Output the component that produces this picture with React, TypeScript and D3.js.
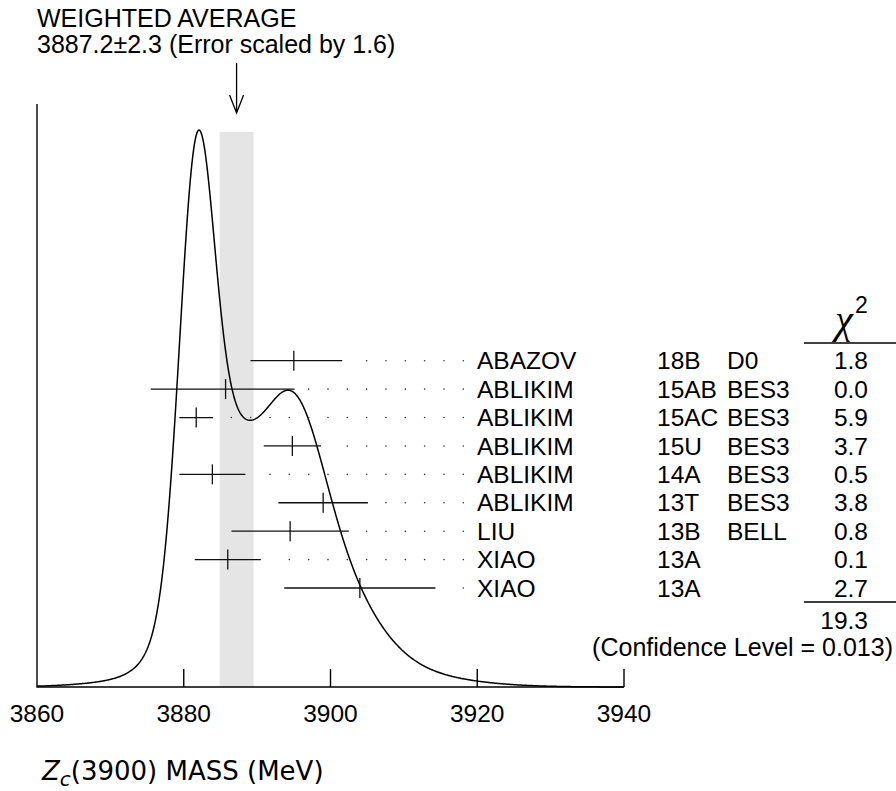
import { useEffect, useRef } from "react";
import * as d3 from "d3";

// measurements (MeV), errors combined in quadrature
const authors = ["ABAZOV", "ABLIKIM", "ABLIKIM", "ABLIKIM", "ABLIKIM", "ABLIKIM", "LIU", "XIAO", "XIAO"];
const refs = ["18B", "15AB", "15AC", "15U", "14A", "13T", "13B", "13A", "13A"];
const experiments = ["D0", "BES3", "BES3", "BES3", "BES3", "BES3", "BELL", "", ""];
const masses = [3895.0, 3885.7, 3881.7, 3894.8, 3883.9, 3899.0, 3894.5, 3886.0, 3904.0];
const errLo = [5.9, 10.2, 2.3, 3.9, 4.5, 6.1, 8.0, 4.5, 10.3];
const errHi = [6.6, 9.4, 2.3, 3.9, 4.5, 6.1, 8.0, 4.5, 10.3];
const chi2 = ["1.8", "0.0", "5.9", "3.7", "0.5", "3.8", "0.8", "0.1", "2.7"];
const chi2Total = "19.3";
const confidenceLevel = "0.013";
const average = 3887.2;
const averageErr = 2.3;
const errorScale = 1.6;
const xTicks = [3860, 3880, 3900, 3920, 3940];

const W = 896;
const H = 791;
const FONT = "'Liberation Sans', Arial, sans-serif";

export default function App() {
  const ref = useRef<SVGSVGElement | null>(null);

  useEffect(() => {
    const svg = d3.select(ref.current!);
    svg.selectAll("*").remove();

    const x0 = 37;
    const x1 = 624;
    const base = 687;
    const x = d3.scaleLinear().domain([3860, 3940]).range([x0, x1]);
    const row = d3.scaleLinear().domain([0, masses.length - 1]).range([360.7, 588]);

    // ideogram: one gaussian per measurement, area ~ 1/sigma
    const ideo = (m: number) =>
      d3.sum(masses, (mu, i) => {
        const s = m < mu ? errLo[i] : errHi[i];
        const sAvg = (errLo[i] + errHi[i]) / 2;
        return Math.exp(-((m - mu) ** 2) / (2 * s * s)) / (sAvg * sAvg);
      });
    const grid = d3.range(3860, 3940.001, 0.1);
    const yMax = d3.max(grid, ideo) ?? 1;
    const y = d3.scaleLinear().domain([0, yMax]).range([base, 130]);

    // weighted average band
    svg
      .append("rect")
      .attr("x", x(average - averageErr))
      .attr("width", x(average + averageErr) - x(average - averageErr))
      .attr("y", 132)
      .attr("height", base - 132)
      .attr("fill", "#e5e5e5");

    // axes
    svg
      .append("path")
      .attr("d", `M${x0},104V${base}H${x1}`)
      .attr("fill", "none")
      .attr("stroke", "#000")
      .attr("stroke-width", 1.4);
    svg
      .selectAll("line.tick")
      .data(xTicks.slice(1))
      .join("line")
      .attr("class", "tick")
      .attr("x1", (d) => x(d))
      .attr("x2", (d) => x(d))
      .attr("y1", base)
      .attr("y2", base - 18)
      .attr("stroke", "#000")
      .attr("stroke-width", 1.4);
    svg
      .selectAll("text.tl")
      .data(xTicks)
      .join("text")
      .attr("class", "tl")
      .attr("x", (d) => x(d))
      .attr("y", 722)
      .attr("text-anchor", "middle")
      .style("font", `24.5px ${FONT}`)
      .text((d) => d);

    // ideogram curve
    svg
      .append("path")
      .datum(grid)
      .attr("d", d3.line<number>().x((d) => x(d)).y((d) => y(ideo(d))))
      .attr("fill", "none")
      .attr("stroke", "#000")
      .attr("stroke-width", 1.5);

    // dotted leaders
    const nameX = 477;
    const dotEnd = nameX - 13.7;
    const dotStep = 19.33;
    masses.forEach((m, i) => {
      const barEnd = x(m + errHi[i]);
      const dots = d3.range(dotEnd, barEnd + 10, -dotStep);
      svg
        .append("g")
        .selectAll("circle")
        .data(dots)
        .join("circle")
        .attr("cx", (d) => d)
        .attr("cy", row(i))
        .attr("r", 0.8)
        .attr("fill", "#333");
    });

    // error bars
    const bars = svg
      .selectAll("g.meas")
      .data(masses)
      .join("g")
      .attr("class", "meas")
      .attr("transform", (_, i) => `translate(0,${row(i)})`);
    bars
      .append("line")
      .attr("x1", (d, i) => x(d - errLo[i]))
      .attr("x2", (d, i) => x(d + errHi[i]))
      .attr("stroke", "#111")
      .attr("stroke-width", 1.3);
    bars
      .append("line")
      .attr("x1", (d) => x(d))
      .attr("x2", (d) => x(d))
      .attr("y1", -10)
      .attr("y2", 10)
      .attr("stroke", "#111")
      .attr("stroke-width", 1.3);

    // label columns
    const cols: [string[], number, string][] = [
      [authors, nameX, "start"],
      [refs, 657, "start"],
      [experiments, 727, "start"],
      [chi2, 868, "end"],
    ];
    cols.forEach(([labels, cx, anchor]) => {
      svg
        .append("g")
        .selectAll("text")
        .data(labels)
        .join("text")
        .attr("x", cx)
        .attr("y", (_, i) => row(i) + 8.7)
        .attr("text-anchor", anchor)
        .style("font", `24.5px ${FONT}`)
        .text((d) => d);
    });

    // chi2 header and totals
    svg
      .append("text")
      .attr("x", 844)
      .attr("y", 333)
      .attr("text-anchor", "middle")
      .style("font", "italic 40px 'Liberation Serif', serif")
      .text("χ");
    svg
      .append("text")
      .attr("x", 855)
      .attr("y", 313)
      .style("font", `23px ${FONT}`)
      .text("2");
    [343, 602].forEach((ly) =>
      svg
        .append("line")
        .attr("x1", 804)
        .attr("x2", 896)
        .attr("y1", ly)
        .attr("y2", ly)
        .attr("stroke", "#000")
        .attr("stroke-width", 1.3)
    );
    svg
      .append("text")
      .attr("x", 868)
      .attr("y", 620 + 8.7)
      .attr("text-anchor", "end")
      .style("font", `24.5px ${FONT}`)
      .text(chi2Total);
    svg
      .append("text")
      .attr("x", 893)
      .attr("y", 647 + 8.7)
      .attr("text-anchor", "end")
      .style("font", `25px ${FONT}`)
      .text(`(Confidence Level = ${confidenceLevel})`);

    // title and arrow
    svg
      .append("text")
      .attr("x", x0)
      .attr("y", 27)
      .style("font", `25px ${FONT}`)
      .text("WEIGHTED AVERAGE");
    svg
      .append("text")
      .attr("x", x0)
      .attr("y", 53)
      .style("font", `25px ${FONT}`)
      .text(`${average}±${averageErr} (Error scaled by ${errorScale})`);
    const ax = x(average);
    svg
      .append("path")
      .attr("d", `M${ax},63V113M${ax - 7},95L${ax},113L${ax + 7},95`)
      .attr("fill", "none")
      .attr("stroke", "#000")
      .attr("stroke-width", 1.3);

    // x axis title
    const t = svg
      .append("text")
      .attr("x", 42)
      .attr("y", 780)
      .style("font", "26px 'DejaVu Sans', sans-serif");
    t.append("tspan").style("font-style", "italic").text("Z");
    t.append("tspan").attr("dy", 6).style("font-style", "italic").style("font-size", "20px").text("c");
    t.append("tspan").attr("dy", -6).text("(3900) MASS (MeV)");
  }, []);

  return (
    <div style={{ position: "absolute", left: 0, top: 0 }}>
      <svg ref={ref} width={W} height={H} style={{ background: "#fff", display: "block" }} />
    </div>
  );
}
